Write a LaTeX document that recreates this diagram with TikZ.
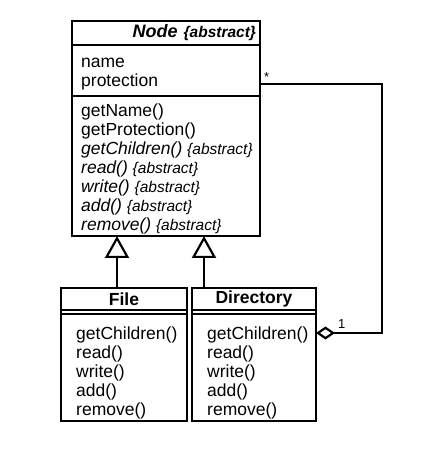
\documentclass[tikz,border=0pt]{standalone}
\usepackage{fontspec}
\setmainfont{Liberation Sans}
\usetikzlibrary{positioning,arrows.meta}

\newcommand{\abstag}{{\fontsize{15.5}{17}\selectfont\{abstract\}}}

\tikzset{
  compartment/.style={draw, line width=2.2pt, outer sep=0pt, inner sep=0pt},
  classtitle/.style={compartment, font=\fontsize{17.5}{19}\selectfont\bfseries},
  members/.style={inner sep=0pt, align=left, anchor=north west,
    font=\fontsize{17.5}{19}\selectfont},
  genline/.style={line width=2.2pt, -{Triangle[open, length=22pt, width=24pt, line width=2.2pt]}},
  aggline/.style={line width=2.2pt, -{Diamond[open, length=19pt, width=13pt, line width=2.2pt]}},
  mult/.style={inner sep=0pt, font=\fontsize{13}{14}\selectfont}
}

\begin{document}
\begin{tikzpicture}[x=1pt,y=1pt]
  \useasboundingbox (0,0) rectangle (432,468);

  % abstract class Node
  \node[classtitle, minimum width=188pt, minimum height=24pt, inner xsep=4pt,
    text width=180pt, align=right, anchor=north west,
    font=\fontsize{18}{20}\selectfont\bfseries\itshape] (nodetitle) at (72,447)
    {Node \abstag};
  \node[compartment, below=0pt of nodetitle, minimum width=188pt, minimum height=51pt] (nodeattrs) {};
  \node[compartment, below=0pt of nodeattrs, minimum width=188pt, minimum height=140pt] (nodebody) {};
  \node[members] (nodeattrlist) at ([xshift=9pt,yshift=-8.7pt]nodeattrs.north west)
    {\strut name\\protection};
  \node[members] (nodeoplist) at ([xshift=9pt,yshift=-6.7pt]nodebody.north west)
    {\strut getName()\\getProtection()\\\textit{getChildren()} \textit{\abstag}\\
     \textit{read()} \textit{\abstag}\\\textit{write()} \textit{\abstag}\\
     \textit{add()} \textit{\abstag}\\\textit{remove()} \textit{\abstag}};

  % class File
  \node[classtitle, minimum width=126pt, minimum height=22pt, anchor=north west] (filetitle) at (61,180) {File};
  \node[compartment, below=0pt of filetitle, minimum width=126pt, minimum height=4pt] (fileattrs) {};
  \node[compartment, below=0pt of fileattrs, minimum width=126pt, minimum height=107pt] (filebody) {};
  \node[members] (fileoplist) at ([xshift=15pt,yshift=-11.7pt]filebody.north west)
    {\strut getChildren()\\read()\\write()\\add()\\remove()};

  % class Directory
  \node[classtitle, minimum width=124pt, minimum height=22pt, anchor=north west] (dirtitle) at (192,180) {Directory};
  \node[compartment, below=0pt of dirtitle, minimum width=124pt, minimum height=4pt] (dirattrs) {};
  \node[compartment, below=0pt of dirattrs, minimum width=124pt, minimum height=107pt] (dirbody) {};
  \node[members] (diroplist) at ([xshift=15pt,yshift=-11.7pt]dirbody.north west)
    {\strut getChildren()\\read()\\write()\\add()\\remove()};

  % generalisation
  \draw[genline] ([xshift=-7pt]filetitle.north) -- ([xshift=-7pt]filetitle.north |- nodebody.south);
  \draw[genline] ([xshift=-50pt]dirtitle.north) -- ([xshift=-50pt]dirtitle.north |- nodebody.south);

  % aggregation
  \coordinate (aggstart) at ([yshift=-39pt]nodeattrs.north east);
  \coordinate (aggend) at ([yshift=-19pt]dirbody.north east);
  \coordinate (rail) at (382,250);
  \draw[aggline] (aggstart) -| (rail) |- (aggend);
  \node[mult, above right=2pt and 4pt of aggstart] (manytag) {*};
  \node[mult, above right=4pt and 22pt of aggend] (onetag) {1};
\end{tikzpicture}
\end{document}
